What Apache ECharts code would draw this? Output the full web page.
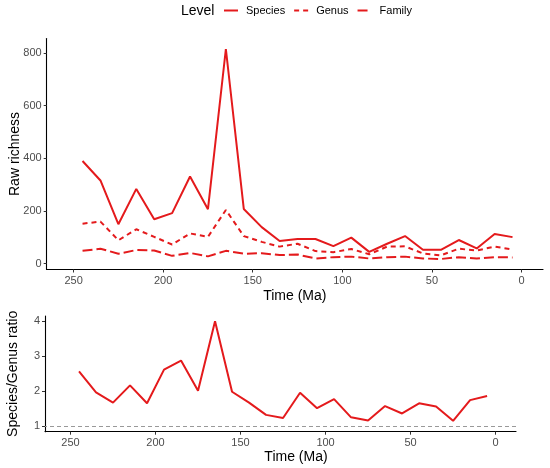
<!DOCTYPE html>
<html>
<head>
<meta charset="utf-8">
<script src="https://cdn.jsdelivr.net/npm/echarts@6/dist/echarts.min.js"></script>
<style>
  html, body { margin: 0; padding: 0; background: #fff; }
  #main { width: 550px; height: 468px; }
</style>
</head>
<body>
<div id="main"></div>
<script>
// time bins (Ma)
var time = [245, 235, 225, 215, 205, 195, 185, 175, 165, 155, 145, 135, 125,
            115, 105, 95, 85, 75, 65, 55, 45, 35, 25, 15, 5];
var species = [390, 316, 150, 284, 169, 192, 331, 207, 815, 208, 139, 86, 94,
               94, 67, 99, 45, 76, 105, 53, 53, 90, 58, 113, 101];
var genus = [152, 160, 89, 131, 102, 73, 115, 102, 204, 105, 83, 65, 76,
             48, 44, 56, 36, 65, 66, 39, 32, 57, 50, 65, 54];
var family = [49, 57, 38, 52, 50, 30, 41, 28, 49, 38, 40, 33, 35,
              20, 25, 27, 20, 25, 27, 20, 18, 25, 20, 25, 24];
var ratio = [2.57, 1.97, 1.68, 2.17, 1.66, 2.62, 2.88, 2.02, 4.0, 1.99, 1.68, 1.33, 1.24,
             1.96, 1.52, 1.78, 1.26, 1.17, 1.58, 1.37, 1.66, 1.57, 1.16, 1.75, 1.87];
var timeTicks = [0, 50, 100, 150, 200, 250];
var richTicks = [0, 200, 400, 600, 800];
var ratioTicks = [1, 2, 3, 4];

var red = '#e41a1c';
var font = 'Liberation Sans';

function pairs(ys) {
    return time.map(function (t, i) { return [t, ys[i]]; });
}

function xAx(idx) {
    return {
        type: 'value', gridIndex: idx, inverse: true, min: -12, max: 265,
        name: 'Time (Ma)', nameLocation: 'middle', nameGap: idx === 1 ? 18 : 20,
        nameTextStyle: { color: '#000', fontSize: 14, fontFamily: font,
                         padding: idx === 1 ? [0, 0, 0, 31] : 0 },
        axisLine: { onZero: false, lineStyle: { color: '#000', width: 1.1 } },
        axisTick: { customValues: timeTicks, length: 3, lineStyle: { color: '#333' } },
        axisLabel: { customValues: timeTicks, color: '#4d4d4d', fontSize: 11, fontFamily: font, margin: 6 },
        splitLine: { show: false }
    };
}

function yAx(idx, name, min, max, ticks, gap) {
    return {
        type: 'value', gridIndex: idx, min: min, max: max,
        name: name, nameLocation: 'middle', nameGap: gap, nameMoveOverlap: false,
        nameTextStyle: { color: '#000', fontSize: 14, fontFamily: font },
        axisLine: { show: true, onZero: false, lineStyle: { color: '#000', width: 1.1 } },
        axisTick: { show: true, customValues: ticks, length: 3, lineStyle: { color: '#333' } },
        axisLabel: { customValues: ticks, color: '#4d4d4d', fontSize: 11, fontFamily: font, margin: 5 },
        splitLine: { show: false }
    };
}

var myChart = echarts.init(document.getElementById('main'));

var option = {
    animation: false,
    backgroundColor: '#fff',
    title: {
        text: 'Level', left: 181, top: 4, padding: 0,
        textStyle: { color: '#000', fontSize: 14, fontWeight: 'normal', fontFamily: font }
    },
    legend: {
        left: 218, top: 0, itemWidth: 14, itemHeight: 8, itemGap: 8,
        itemStyle: { opacity: 0 }, // hide the key dot, keep the line
        textStyle: { color: '#000', fontSize: 11, fontFamily: font, padding: [0, 0, 0, 3] },
        data: ['Species', 'Genus', 'Family']
    },
    grid: [
        { left: 46.7, right: 7, top: 38.5, height: 231, outerBoundsMode: 'none' },
        { left: 45, right: 34, top: 316, height: 115.7, outerBoundsMode: 'none' }
    ],
    xAxis: [xAx(0), xAx(1)],
    yAxis: [
        yAx(0, 'Raw richness', -21.85, 854.85, richTicks, 25),
        yAx(1, 'Species/Genus ratio', 0.85, 4.15, ratioTicks, 25)
    ],
    series: [
        {
            name: 'Species', type: 'line', xAxisIndex: 0, yAxisIndex: 0,
            data: pairs(species), symbol: 'none', color: red,
            lineStyle: { width: 2, color: red }
        },
        {
            name: 'Genus', type: 'line', xAxisIndex: 0, yAxisIndex: 0,
            data: pairs(genus), symbol: 'none', color: red,
            lineStyle: { width: 2, color: red, type: [5, 4] }
        },
        {
            name: 'Family', type: 'line', xAxisIndex: 0, yAxisIndex: 0,
            data: pairs(family), symbol: 'none', color: red,
            lineStyle: { width: 2, color: red, type: [10, 4] }
        },
        {
            name: 'ratio', type: 'line', xAxisIndex: 1, yAxisIndex: 1,
            data: pairs(ratio), symbol: 'none', color: red,
            lineStyle: { width: 2, color: red },
            markLine: {
                silent: true, symbol: 'none', label: { show: false },
                lineStyle: { color: '#999', type: [4, 3], width: 1 },
                data: [{ yAxis: 1 }]
            }
        }
    ]
};

myChart.setOption(option);
</script>
</body>
</html>
